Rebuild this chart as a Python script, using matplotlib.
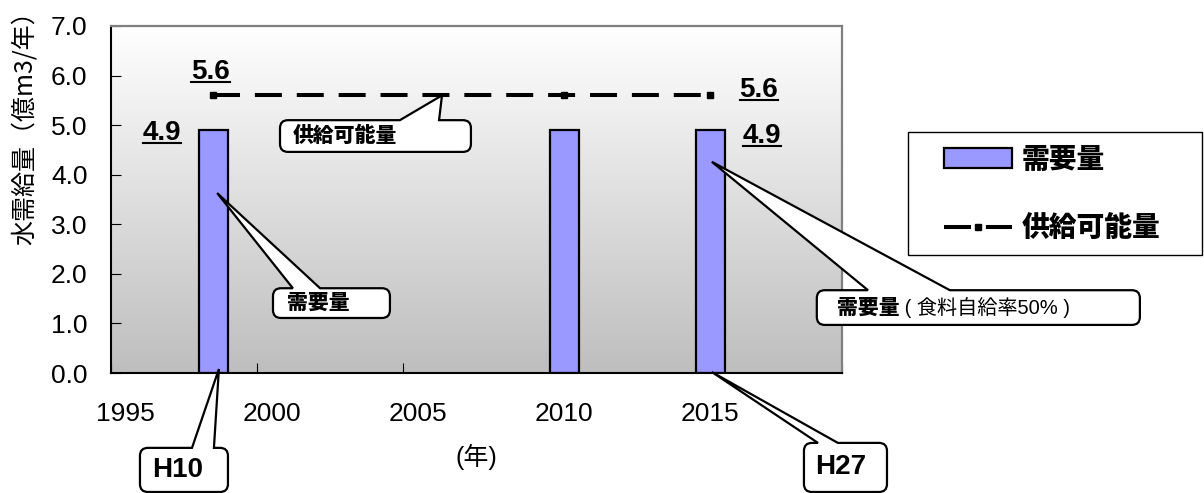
import numpy as np
import matplotlib
matplotlib.use('Agg')
import matplotlib.pyplot as plt
from matplotlib.path import Path
from matplotlib.patches import PathPatch, Rectangle
from matplotlib.lines import Line2D
from matplotlib.text import Annotation
from matplotlib.transforms import IdentityTransform
from matplotlib.colors import LinearSegmentedColormap
from matplotlib.font_manager import FontProperties
from matplotlib.ticker import FormatStrFormatter

plt.rcParams['font.family'] = ['Liberation Sans', 'Noto Sans CJK JP']
CJK = ['Noto Sans CJK JP', 'DejaVu Sans']

# water demand / supply capacity (100 million m3 per year)
years = [1998, 2010, 2015]
demand = [4.9, 4.9, 4.9]
supply = [5.6, 5.6, 5.6]
year_ticks = [1995, 2000, 2005, 2010, 2015]
series_names = ['需要量', '供給可能量']

BAR_COLOR = '#9999ff'

fig = plt.figure(figsize=(12.04, 4.93), dpi=100)
ax = fig.add_axes([0.0922, 0.2434, 0.6071, 0.7039])

# plot area: white at the top fading to grey
grad = np.linspace(1, 0, 256).reshape(-1, 1)
cmap = LinearSegmentedColormap.from_list('bg', ['#bebebe', '#ffffff'])
ax.imshow(grad, cmap=cmap, extent=[0, 1, 0, 1], transform=ax.transAxes,
          aspect='auto', zorder=0)

bars = ax.bar(years, demand, width=1, align='edge', color=BAR_COLOR,
              edgecolor='black', linewidth=1.6, zorder=2)
mid = np.array(years) + 0.5
line, = ax.plot(mid, supply, color='black', lw=2.9, dashes=(6.7, 3.7),
                marker='s', ms=5, zorder=3)

ax.set_xlim(1995, 2020)
ax.set_ylim(0, 7)
ax.set_yticks(np.arange(0, 7.1, 1))
ax.yaxis.set_major_formatter(FormatStrFormatter('%.1f'))
ax.set_xticks(np.arange(1995, 2021, 5))
ax.set_xticks(np.array(year_ticks) + 0.5, minor=True)
ax.set_xticklabels([str(y) for y in year_ticks], minor=True)
ax.tick_params(axis='x', which='major', direction='in', length=7,
               labelbottom=False)
ax.tick_params(axis='x', which='minor', length=0, pad=21, labelsize=19)
ax.tick_params(axis='y', direction='in', length=7, pad=17, labelsize=19)
for side in ['top', 'right']:
    ax.spines[side].set_color('#808080')
    ax.spines[side].set_linewidth(1.6)
for side in ['left', 'bottom']:
    ax.spines[side].set_linewidth(1.5)

ax.set_xlabel('(年)', fontsize=18)
ax.xaxis.set_label_coords(0.5, -0.205)
fig.text(25 / 1204, 1 - 122 / 493, '水需給量（億m3/年）', rotation=90,
         ha='center', va='center', fontsize=18, family=CJK)

# value labels at the first and last points
value_texts = []
for x, v, off in [(mid[0], supply[0], (-2, 17)), (mid[0], demand[0], (-37, -2)),
                  (mid[-1], supply[-1], (35, 4)), (mid[-1], demand[-1], (37, -4))]:
    t = ax.annotate('%.1f' % v, xy=(x, v), xytext=off, textcoords='offset points',
                    ha='center', va='center', fontsize=20, fontweight='bold',
                    zorder=5)
    value_texts.append(t)

# legend
ax.legend([bars, line], series_names,
          prop=FontProperties(family=CJK, weight='heavy', size=20),
          frameon=False, loc='center left',
          bbox_to_anchor=(944 / 1204, 1 - 194 / 493),
          bbox_transform=fig.transFigure, borderpad=0, borderaxespad=0,
          handlelength=2.45, handletextpad=0.36, labelspacing=1.45,
          numpoints=1)
fig.add_artist(Rectangle((908 / 1204, 1 - 255 / 493), 294 / 1204, 123 / 493,
                         transform=fig.transFigure, fill=False,
                         ec='black', lw=1))


def callout(box, base, tip, parts, pad, r=8):
    """Rounded callout box with a wedge from its top edge to tip (data)."""
    to_px = ax.transData.transform
    (x0, y0), (x1, y1) = to_px([(box[0], box[2]), (box[1], box[3])])
    b0 = to_px((base[0], box[3]))[0]
    b1 = to_px((base[1], box[3]))[0]
    tx, ty = to_px(tip)
    verts = [(b0, y1), (tx, ty), (b1, y1),
             (x1 - r, y1), (x1, y1), (x1, y1 - r),
             (x1, y0 + r), (x1, y0), (x1 - r, y0),
             (x0 + r, y0), (x0, y0), (x0, y0 + r),
             (x0, y1 - r), (x0, y1), (x0 + r, y1),
             (b0, y1)]
    codes = ([Path.MOVETO, Path.LINETO, Path.LINETO, Path.LINETO]
             + [Path.CURVE3, Path.CURVE3, Path.LINETO] * 3
             + [Path.CURVE3, Path.CURVE3, Path.CLOSEPOLY])
    fig.add_artist(PathPatch(Path(verts, codes), fc='white', ec='black',
                             lw=1.6, transform=IdentityTransform(), zorder=10))
    prev = None
    for s, kw in parts:
        if prev is None:
            prev = fig.text(x0 + pad, (y0 + y1) / 2, s, ha='left', va='center',
                            transform=IdentityTransform(), zorder=11, **kw)
        else:
            a = Annotation(s, xy=(1, 0), xycoords=prev, ha='left', va='bottom',
                           zorder=11, **kw)
            fig.add_artist(a)
            prev = a


bold_cjk = dict(fontsize=15, fontweight='heavy', family=CJK)
callout((2000.78, 2007.31, 4.46, 5.10), (2004.88, 2006.22), (2006.32, supply[1]),
        [(series_names[1], bold_cjk)], 13)
callout((2000.54, 2004.54, 1.11, 1.71), (2001.22, 2002.15), (1998.63, 3.63),
        [(series_names[0], bold_cjk)], 14)
callout((2019.14, 2030.19, 0.97, 1.67), (2020.89, 2023.69), (2015.55, 4.26),
        [(series_names[0], bold_cjk), (' ( 食料自給率50% )', dict(fontsize=14.5))], 20)
callout((1995.99, 1999.0, -2.40, -1.51), (1997.77, 1998.52), (1998.69, 0.08),
        [('H10', dict(fontsize=20, fontweight='bold'))], 12)
callout((2018.70, 2021.54, -2.40, -1.41), (2019.18, 2019.86), (2015.55, 0.02),
        [('H27', dict(fontsize=20, fontweight='bold'))], 11)

# underline the value labels
fig.canvas.draw()
for t in value_texts:
    bb = t.get_window_extent()
    fig.add_artist(Line2D([bb.x0, bb.x1], [bb.y0 + 3, bb.y0 + 3], color='black',
                          lw=1.5, transform=IdentityTransform(), zorder=6))

fig.savefig('out.png', dpi=100)
